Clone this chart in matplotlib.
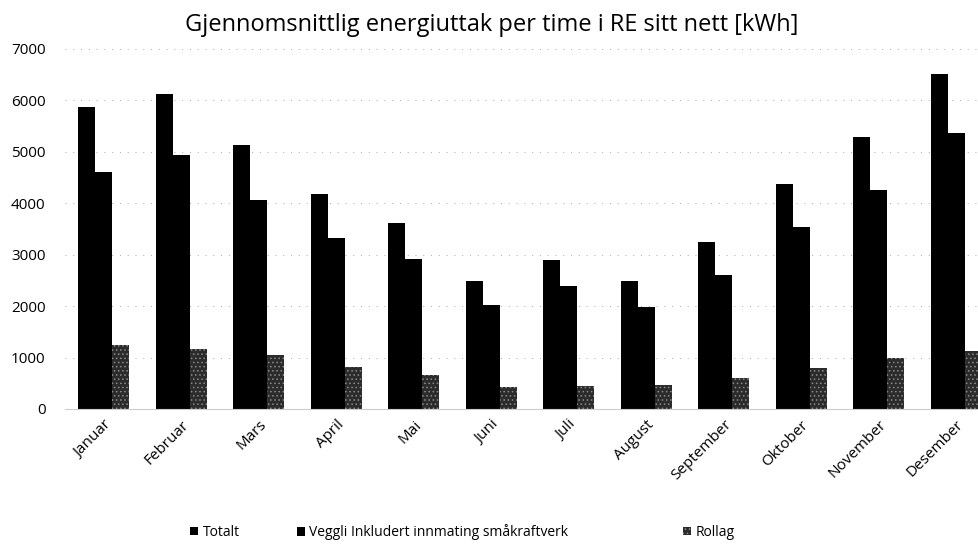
import numpy as np
import matplotlib.pyplot as plt

plt.rcParams['font.family'] = ['Open Sans', 'DejaVu Sans']
plt.rcParams['hatch.linewidth'] = 0.6

# Months and series values (kWh per hour)
maaneder = ["Januar", "Februar", "Mars", "April", "Mai", "Juni",
            "Juli", "August", "September", "Oktober", "November", "Desember"]
totalt = [5880, 6130, 5140, 4180, 3620, 2490, 2900, 2490, 3250, 4380, 5290, 6520]
veggli = [4610, 4940, 4070, 3330, 2920, 2020, 2390, 1990, 2610, 3540, 4260, 5370]
rollag = [1245, 1170, 1050, 820, 660, 430, 450, 465, 600, 800, 990, 1130]

fig = plt.figure(figsize=(9.79, 5.46), dpi=100)
# the plot area runs a bit past the right edge, like the cropped original
ax = fig.add_axes([65 / 979, 1 - 409 / 546, 930 / 979, 360 / 546])

x = np.arange(len(maaneder))
w = 0.22
b1 = ax.bar(x - w, totalt, w, color="black", label="Totalt")
b2 = ax.bar(x, veggli, w, color="black", label="Veggli Inkludert innmating småkraftverk")
b3 = ax.bar(x + w, rollag, w, color="#2b2b2b", hatch="....", edgecolor="#8a8a8a",
            linewidth=0, label="Rollag")

ax.set_xlim(-0.5, len(maaneder) - 0.5)
ax.set_ylim(0, 7000)
ax.set_yticks(range(0, 7001, 1000))
ax.yaxis.grid(True, linestyle=(0, (1, 7)), color="#aaaaaa", linewidth=0.7)
ax.set_axisbelow(True)
for s in ["top", "right", "left"]:
    ax.spines[s].set_visible(False)
ax.spines["bottom"].set_color("#cccccc")
ax.tick_params(axis="both", length=0, labelsize=11)
ax.tick_params(axis="y", pad=14)
ax.tick_params(axis="x", pad=6)
ax.set_xticks(x)
ax.set_xticklabels(maaneder, rotation=45, ha="right", rotation_mode="anchor")

fig.text(0.502, 0.955, "Gjennomsnittlig energiuttak per time i RE sitt nett [kWh]",
         ha="center", va="center", fontsize=17)

# legend entries placed one by one, as in the original
for h, xpos in [(b1, 183), (b2, 290), (b3, 676)]:
    fig.legend(handles=[h], loc="center left", bbox_to_anchor=(xpos / 979, 0.025),
               frameon=False, fontsize=10, handlelength=0.6, handleheight=0.6,
               handletextpad=0.3, borderpad=0)

fig.savefig("out.png", dpi=100)
